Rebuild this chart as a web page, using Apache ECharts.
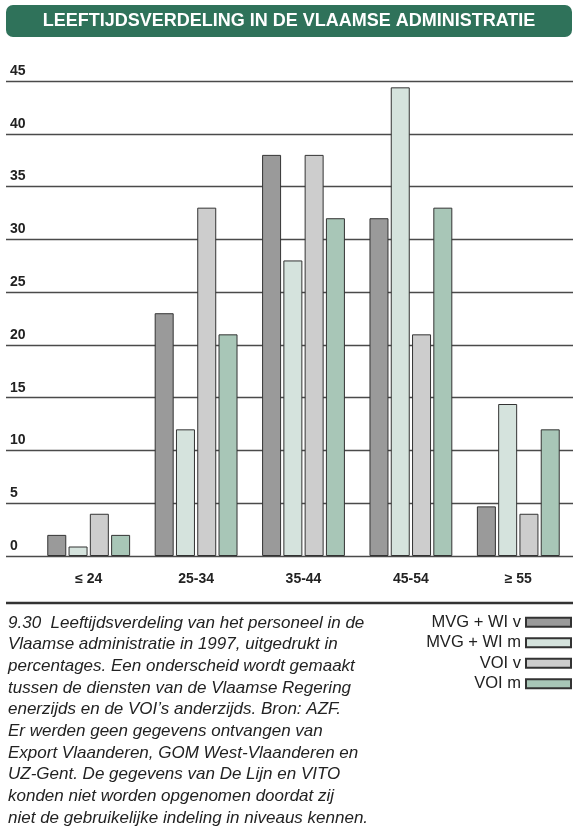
<!DOCTYPE html>
<html>
<head>
<meta charset="utf-8">
<script src="https://cdn.jsdelivr.net/npm/echarts@6/dist/echarts.min.js"></script>
<style>
    html, body { margin: 0; padding: 0; background: #fff; }
    #chart { width: 573px; height: 831px; }
</style>
</head>
<body>
<div id="chart"></div>
<script>
// leeftijdsklassen
var categories = ['≤ 24', '25-34', '35-44', '45-54', '≥ 55']
var yTicks = [0, 5, 10, 15, 20, 25, 30, 35, 40, 45]

// percentages per groep
var mvgV = [2, 23, 38, 32, 4.7]
var mvgM = [0.9, 12, 28, 44.4, 14.4]
var voiV = [4, 33, 38, 21, 4]
var voiM = [2, 21, 32, 33, 12]

var seriesNames = ['MVG + WI v', 'MVG + WI m', 'VOI v', 'VOI m']
var seriesColors = ['#9a9a9a', '#d5e3dd', '#cdcdcd', '#a8c6b7']

var caption = [
    '9.30  Leeftijdsverdeling van het personeel in de',
    'Vlaamse administratie in 1997, uitgedrukt in',
    'percentages. Een onderscheid wordt gemaakt',
    'tussen de diensten van de Vlaamse Regering',
    'enerzijds en de VOI’s anderzijds. Bron: AZF.',
    'Er werden geen gegevens ontvangen van',
    'Export Vlaanderen, GOM West-Vlaanderen en',
    'UZ-Gent. De gegevens van De Lijn en VITO',
    'konden niet worden opgenomen doordat zij',
    'niet de gebruikelijke indeling in niveaus kennen.',
]

var font = '"Liberation Sans", Arial, sans-serif'

var myChart = echarts.init(document.getElementById('chart'))

var allData = [mvgV, mvgM, voiV, voiM]
var series = seriesNames.map(function (name, i) {
    return {
        name: name,
        type: 'bar',
        xAxisIndex: 1,
        yAxisIndex: 1,
        barWidth: 19,
        barGap: '12%',
        itemStyle: {
            color: seriesColors[i],
            borderColor: '#333',
            borderWidth: 1,
        },
        data: allData[i],
    }
})

var option = {
    animation: false,
    backgroundColor: '#fff',
    grid: [
        // alleen voor de horizontale lijnen over de volle breedte
        { left: 6, right: 0, top: 81, bottom: 275 },
        { left: 35, right: 1, top: 81, bottom: 275 },
    ],
    xAxis: [
        { gridIndex: 0, type: 'value', show: false },
        {
            gridIndex: 1,
            type: 'category',
            data: categories,
            axisLine: { show: false },
            axisTick: { show: false },
            axisLabel: {
                margin: 16,
                fontFamily: font,
                fontWeight: 'bold',
                fontSize: 14,
                color: '#222',
            },
        },
    ],
    yAxis: [
        {
            gridIndex: 0,
            type: 'value',
            min: 0,
            max: 45,
            interval: 5,
            axisLine: { show: false },
            axisTick: { show: false },
            axisLabel: {
                inside: true,
                margin: 4,
                verticalAlign: 'bottom',
                padding: [0, 0, 3, 0],
                fontFamily: font,
                fontWeight: 'bold',
                fontSize: 14,
                color: '#222',
                formatter: function (v) {
                    return yTicks.indexOf(v) >= 0 ? String(v) : ''
                },
            },
            splitLine: {
                lineStyle: { color: '#4a4a4a', width: 1.3 },
            },
        },
        {
            gridIndex: 1,
            type: 'value',
            min: 0,
            max: 45,
            interval: 5,
            show: false,
            splitLine: { show: false },
        },
    ],
    legend: {
        orient: 'vertical',
        align: 'right',
        right: 1,
        top: 613,
        padding: 0,
        itemWidth: 45,
        itemHeight: 9,
        itemGap: 2,
        icon: 'rect',
        textStyle: {
            fontFamily: font,
            fontSize: 16.5,
            lineHeight: 18.5,
            color: '#222',
        },
        data: seriesNames,
    },
    graphic: [
        {
            type: 'rect',
            shape: { x: 6, y: 5, width: 566, height: 32, r: 7 },
            style: { fill: '#2f725a' },
        },
        {
            type: 'text',
            x: 289,
            y: 21,
            style: {
                text: 'LEEFTIJDSVERDELING IN DE VLAAMSE ADMINISTRATIE',
                fill: '#fff',
                font: 'bold 18px ' + font,
                textAlign: 'center',
                textVerticalAlign: 'middle',
            },
        },
        {
            type: 'line',
            shape: { x1: 6, y1: 603, x2: 573, y2: 603 },
            style: { stroke: '#333', lineWidth: 2.5 },
        },
        {
            type: 'text',
            x: 8,
            y: 612,
            style: {
                text: caption.join('\n'),
                fill: '#222',
                font: 'italic 17px ' + font,
                lineHeight: 21.7,
            },
        },
    ],
    series: series,
}

myChart.setOption(option)
</script>
</body>
</html>
